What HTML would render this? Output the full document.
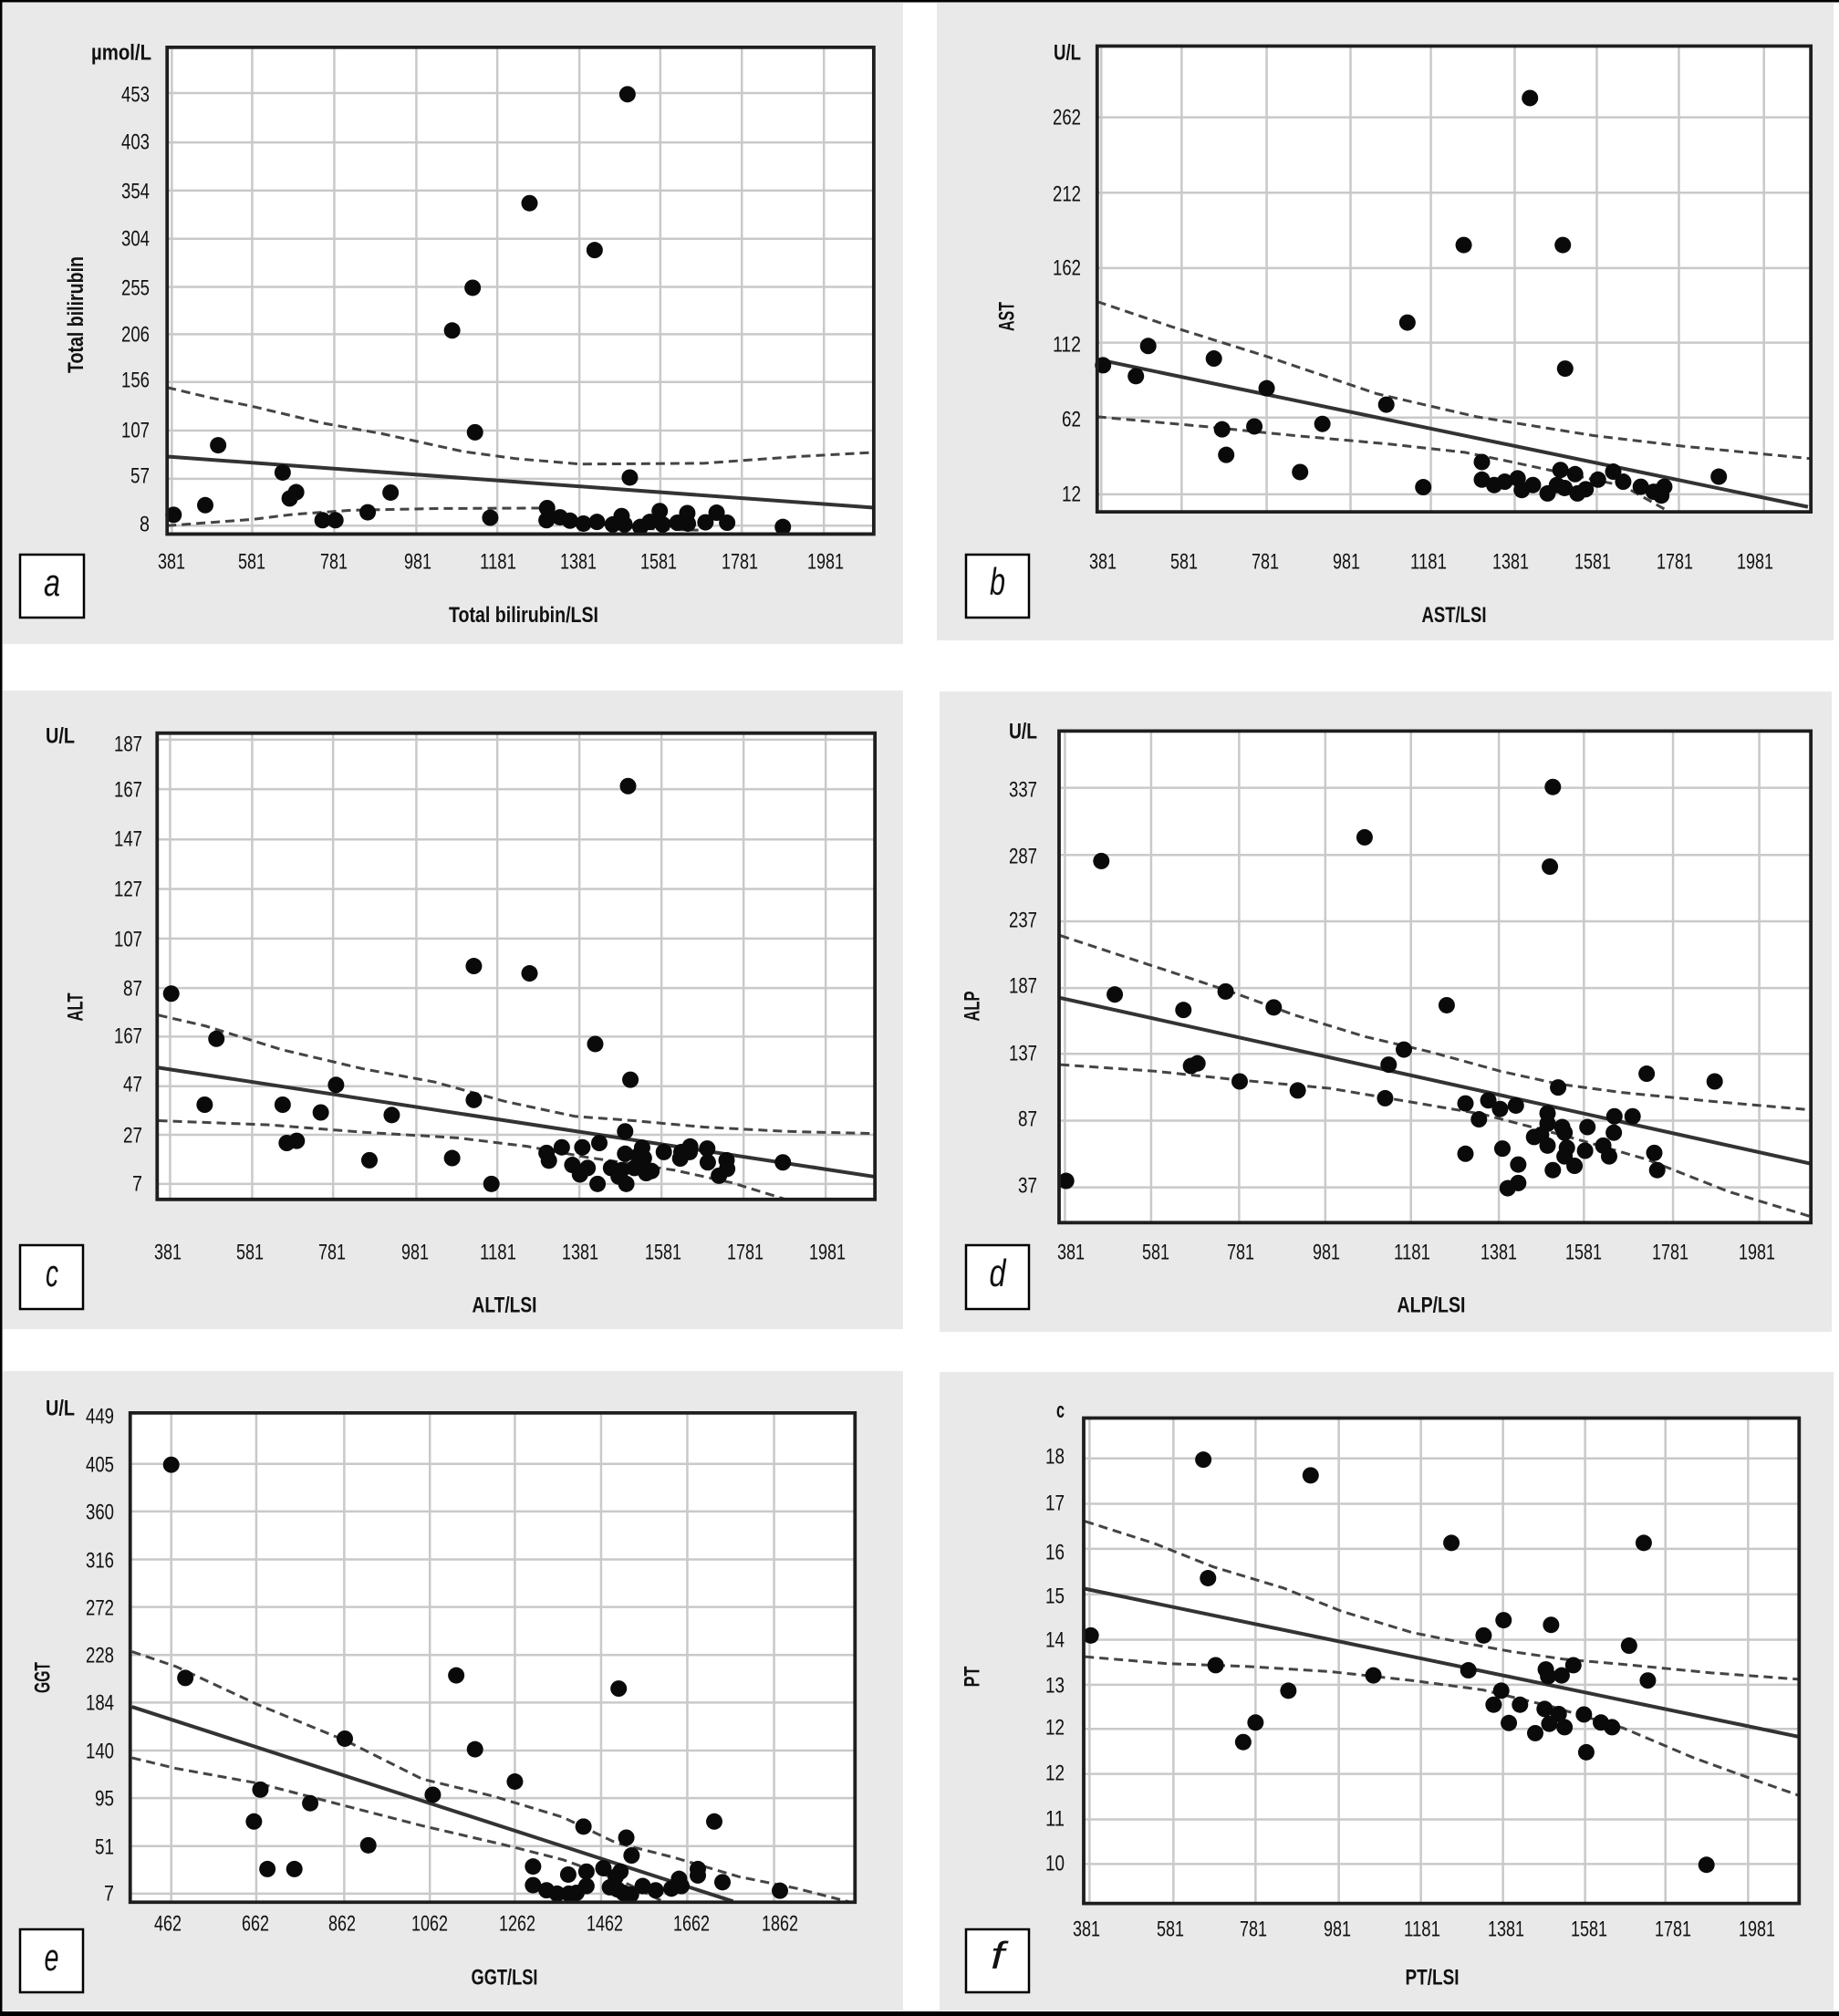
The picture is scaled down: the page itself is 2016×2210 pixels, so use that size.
<!DOCTYPE html>
<html><head><meta charset="utf-8"><style>
html,body{margin:0;padding:0;background:#fff}
svg{display:block}
.t{font-family:"Liberation Sans",sans-serif;font-size:24px;fill:#111}
.b{font-weight:bold}
.L{font-family:"Liberation Sans",sans-serif;font-style:italic;font-size:42px;fill:#111}
.pg path,.pg rect{vector-effect:non-scaling-stroke}
.grid{stroke:#c9c9c9;stroke-width:2.5;fill:none}
.frame{stroke:#1e1e1e;stroke-width:3.8;fill:none}
.reg{stroke:#333;stroke-width:4;fill:none}
.ci{stroke:#444;stroke-width:3;fill:none;stroke-dasharray:10 6}
.dots ellipse{fill:#0a0a0a}
</style></head><body>
<svg width="2016" height="2210" viewBox="0 0 2016 2210" xmlns="http://www.w3.org/2000/svg">
<rect x="0" y="0" width="2016" height="2210" fill="#fff"/>
<!-- panel backgrounds -->
<rect x="3" y="3" width="987" height="703" fill="#e9e9e9"/>
<rect x="1027" y="3" width="983" height="699" fill="#e9e9e9"/>
<rect x="3" y="757" width="987" height="700" fill="#e9e9e9"/>
<rect x="1030" y="758" width="978" height="702" fill="#e9e9e9"/>
<rect x="3" y="1503" width="987" height="701" fill="#e9e9e9"/>
<rect x="1030" y="1504" width="980" height="700" fill="#e9e9e9"/>
<!-- outer black edges -->
<rect x="0" y="0" width="2016" height="2.5" fill="#000"/>
<rect x="0" y="0" width="2.5" height="2210" fill="#000"/>
<rect x="0" y="2205" width="2016" height="5" fill="#000"/>

<!-- ============ PANEL A ============ -->
<g class="pg" transform="translate(0,0) scale(0.64286,0.45918)">
<rect x="285" y="113" width="1205" height="1162" fill="#fff"/>
<path class="grid" d="M293,113V1275M430,113V1275M570,113V1275M710,113V1275M848,113V1275M988,113V1275M1126,113V1275M1265,113V1275M1405,113V1275M285,222H1490M285,340H1490M285,455H1490M285,570H1490M285,685H1490M285,798H1490M285,912H1490M285,1028H1490M285,1143H1490M285,1255H1490"/>
<path class="ci" d="M285,925L360,950L430,970L550,1010L650,1035L790,1078L880,1095L990,1108L1200,1106L1360,1090L1490,1080"/>
<path class="ci" d="M285,1255L430,1240L500,1228L600,1218L750,1214L920,1213L1000,1248L1100,1262L1200,1266"/>
<path class="reg" d="M285,1090L1490,1212"/>
<g class="dots">
<ellipse cx="1070" cy="225" rx="14" ry="19.6"/><ellipse cx="903" cy="485" rx="14" ry="19.6"/><ellipse cx="1014" cy="597" rx="14" ry="19.6"/><ellipse cx="806" cy="687" rx="14" ry="19.6"/><ellipse cx="771" cy="789" rx="14" ry="19.6"/><ellipse cx="810" cy="1032" rx="14" ry="19.6"/><ellipse cx="372" cy="1063" rx="14" ry="19.6"/><ellipse cx="482" cy="1128" rx="14" ry="19.6"/><ellipse cx="1074" cy="1140" rx="14" ry="19.6"/><ellipse cx="350" cy="1206" rx="14" ry="19.6"/><ellipse cx="494" cy="1190" rx="14" ry="19.6"/><ellipse cx="505" cy="1175" rx="14" ry="19.6"/><ellipse cx="666" cy="1176" rx="14" ry="19.6"/><ellipse cx="296" cy="1229" rx="14" ry="19.6"/><ellipse cx="550" cy="1242" rx="14" ry="19.6"/><ellipse cx="572" cy="1242" rx="14" ry="19.6"/><ellipse cx="627" cy="1223" rx="14" ry="19.6"/><ellipse cx="836" cy="1236" rx="14" ry="19.6"/><ellipse cx="933" cy="1213" rx="14" ry="19.6"/><ellipse cx="932" cy="1242" rx="14" ry="19.6"/><ellipse cx="955" cy="1235" rx="14" ry="19.6"/><ellipse cx="972" cy="1243" rx="14" ry="19.6"/><ellipse cx="995" cy="1250" rx="14" ry="19.6"/><ellipse cx="1018" cy="1246" rx="14" ry="19.6"/><ellipse cx="1045" cy="1252" rx="14" ry="19.6"/><ellipse cx="1060" cy="1232" rx="14" ry="19.6"/><ellipse cx="1065" cy="1252" rx="14" ry="19.6"/><ellipse cx="1092" cy="1258" rx="14" ry="19.6"/><ellipse cx="1108" cy="1246" rx="14" ry="19.6"/><ellipse cx="1125" cy="1220" rx="14" ry="19.6"/><ellipse cx="1130" cy="1252" rx="14" ry="19.6"/><ellipse cx="1155" cy="1248" rx="14" ry="19.6"/><ellipse cx="1172" cy="1225" rx="14" ry="19.6"/><ellipse cx="1173" cy="1250" rx="14" ry="19.6"/><ellipse cx="1203" cy="1247" rx="14" ry="19.6"/><ellipse cx="1222" cy="1224" rx="14" ry="19.6"/><ellipse cx="1240" cy="1248" rx="14" ry="19.6"/><ellipse cx="1335" cy="1258" rx="14" ry="19.6"/>
</g>
<rect class="frame" x="285" y="113" width="1205" height="1162"/>
</g>
<g class="t" text-anchor="end">
<text class="b" x="166" y="65.5" textLength="66" lengthAdjust="spacingAndGlyphs">µmol/L</text>
<text x="164" y="111.5" textLength="31" lengthAdjust="spacingAndGlyphs">453</text>
<text x="164" y="163.5" textLength="31" lengthAdjust="spacingAndGlyphs">403</text>
<text x="164" y="217.5" textLength="31" lengthAdjust="spacingAndGlyphs">354</text>
<text x="164" y="269.5" textLength="31" lengthAdjust="spacingAndGlyphs">304</text>
<text x="164" y="323.5" textLength="31" lengthAdjust="spacingAndGlyphs">255</text>
<text x="164" y="374.5" textLength="31" lengthAdjust="spacingAndGlyphs">206</text>
<text x="164" y="424.5" textLength="31" lengthAdjust="spacingAndGlyphs">156</text>
<text x="164" y="479.5" textLength="31" lengthAdjust="spacingAndGlyphs">107</text>
<text x="164" y="529.5" textLength="21" lengthAdjust="spacingAndGlyphs">57</text>
<text x="164" y="582.5" textLength="11" lengthAdjust="spacingAndGlyphs">8</text>
</g>
<g class="t" text-anchor="middle">
<text x="188" y="623.5" textLength="30" lengthAdjust="spacingAndGlyphs">381</text>
<text x="276" y="623.5" textLength="30" lengthAdjust="spacingAndGlyphs">581</text>
<text x="366" y="623.5" textLength="30" lengthAdjust="spacingAndGlyphs">781</text>
<text x="458" y="623.5" textLength="30" lengthAdjust="spacingAndGlyphs">981</text>
<text x="546" y="623.5" textLength="40" lengthAdjust="spacingAndGlyphs">1181</text>
<text x="634" y="623.5" textLength="40" lengthAdjust="spacingAndGlyphs">1381</text>
<text x="722" y="623.5" textLength="40" lengthAdjust="spacingAndGlyphs">1581</text>
<text x="811" y="623.5" textLength="40" lengthAdjust="spacingAndGlyphs">1781</text>
<text x="905" y="623.5" textLength="40" lengthAdjust="spacingAndGlyphs">1981</text>
<text class="b" x="574" y="682" textLength="164" lengthAdjust="spacingAndGlyphs">Total bilirubin/LSI</text>
<text class="b" x="91" y="345" transform="rotate(-90,91,345)" textLength="128" lengthAdjust="spacingAndGlyphs">Total bilirubin</text>
</g>
<rect x="22" y="608" width="70" height="69" fill="#fff" stroke="#000" stroke-width="2.5"/>
<text class="L" x="57" y="653" text-anchor="middle" textLength="18" lengthAdjust="spacingAndGlyphs">a</text>

<!-- ============ PANEL B ============ -->
<g class="pg" transform="translate(1008,0) scale(0.64286,0.45918)">
<rect x="303" y="110" width="1217" height="1112" fill="#fff"/>
<path class="grid" d="M310,110V1222M447,110V1222M592,110V1222M735,110V1222M872,110V1222M1015,110V1222M1155,110V1222M1295,110V1222M1440,110V1222M303,280H1520M303,460H1520M303,640H1520M303,818H1520M303,997H1520M303,1180H1520"/>
<path class="ci" d="M303,720L430,780L590,850L780,940L950,995L1150,1040L1300,1065L1520,1095"/>
<path class="ci" d="M303,995L500,1020L640,1040L800,1060L930,1080L1000,1100L1100,1130L1200,1160L1270,1215"/>
<path class="reg" d="M303,858L1515,1210"/>
<g class="dots">
<ellipse cx="1041" cy="234" rx="14" ry="19.6"/><ellipse cx="928" cy="585" rx="14" ry="19.6"/><ellipse cx="1097" cy="585" rx="14" ry="19.6"/><ellipse cx="832" cy="770" rx="14" ry="19.6"/><ellipse cx="390" cy="826" rx="14" ry="19.6"/><ellipse cx="1101" cy="880" rx="14" ry="19.6"/><ellipse cx="313" cy="872" rx="14" ry="19.6"/><ellipse cx="369" cy="898" rx="14" ry="19.6"/><ellipse cx="502" cy="856" rx="14" ry="19.6"/><ellipse cx="592" cy="927" rx="14" ry="19.6"/><ellipse cx="796" cy="966" rx="14" ry="19.6"/><ellipse cx="687" cy="1012" rx="14" ry="19.6"/><ellipse cx="571" cy="1018" rx="14" ry="19.6"/><ellipse cx="516" cy="1025" rx="14" ry="19.6"/><ellipse cx="523" cy="1086" rx="14" ry="19.6"/><ellipse cx="649" cy="1127" rx="14" ry="19.6"/><ellipse cx="859" cy="1163" rx="14" ry="19.6"/><ellipse cx="959" cy="1103" rx="14" ry="19.6"/><ellipse cx="959" cy="1145" rx="14" ry="19.6"/><ellipse cx="980" cy="1158" rx="14" ry="19.6"/><ellipse cx="998" cy="1150" rx="14" ry="19.6"/><ellipse cx="1020" cy="1142" rx="14" ry="19.6"/><ellipse cx="1027" cy="1170" rx="14" ry="19.6"/><ellipse cx="1046" cy="1158" rx="14" ry="19.6"/><ellipse cx="1071" cy="1178" rx="14" ry="19.6"/><ellipse cx="1087" cy="1158" rx="14" ry="19.6"/><ellipse cx="1093" cy="1122" rx="14" ry="19.6"/><ellipse cx="1100" cy="1165" rx="14" ry="19.6"/><ellipse cx="1118" cy="1132" rx="14" ry="19.6"/><ellipse cx="1122" cy="1178" rx="14" ry="19.6"/><ellipse cx="1136" cy="1168" rx="14" ry="19.6"/><ellipse cx="1157" cy="1145" rx="14" ry="19.6"/><ellipse cx="1183" cy="1126" rx="14" ry="19.6"/><ellipse cx="1200" cy="1150" rx="14" ry="19.6"/><ellipse cx="1230" cy="1162" rx="14" ry="19.6"/><ellipse cx="1252" cy="1174" rx="14" ry="19.6"/><ellipse cx="1265" cy="1183" rx="14" ry="19.6"/><ellipse cx="1270" cy="1162" rx="14" ry="19.6"/><ellipse cx="1363" cy="1138" rx="14" ry="19.6"/>
</g>
<rect class="frame" x="303" y="110" width="1217" height="1112"/>
</g>
<g class="t" text-anchor="end">
<text class="b" x="1185" y="65.5" textLength="30" lengthAdjust="spacingAndGlyphs">U/L</text>
<text x="1185" y="136.5" textLength="31" lengthAdjust="spacingAndGlyphs">262</text>
<text x="1185" y="220.5" textLength="31" lengthAdjust="spacingAndGlyphs">212</text>
<text x="1185" y="301.5" textLength="31" lengthAdjust="spacingAndGlyphs">162</text>
<text x="1185" y="385.5" textLength="31" lengthAdjust="spacingAndGlyphs">112</text>
<text x="1185" y="467.5" textLength="21" lengthAdjust="spacingAndGlyphs">62</text>
<text x="1185" y="549.5" textLength="21" lengthAdjust="spacingAndGlyphs">12</text>
</g>
<g class="t" text-anchor="middle">
<text x="1209" y="623.5" textLength="30" lengthAdjust="spacingAndGlyphs">381</text>
<text x="1298" y="623.5" textLength="30" lengthAdjust="spacingAndGlyphs">581</text>
<text x="1387" y="623.5" textLength="30" lengthAdjust="spacingAndGlyphs">781</text>
<text x="1476" y="623.5" textLength="30" lengthAdjust="spacingAndGlyphs">981</text>
<text x="1566" y="623.5" textLength="40" lengthAdjust="spacingAndGlyphs">1181</text>
<text x="1656" y="623.5" textLength="40" lengthAdjust="spacingAndGlyphs">1381</text>
<text x="1746" y="623.5" textLength="40" lengthAdjust="spacingAndGlyphs">1581</text>
<text x="1836" y="623.5" textLength="40" lengthAdjust="spacingAndGlyphs">1781</text>
<text x="1924" y="623.5" textLength="40" lengthAdjust="spacingAndGlyphs">1981</text>
<text class="b" x="1594" y="682" textLength="71" lengthAdjust="spacingAndGlyphs">AST/LSI</text>
<text class="b" x="1111.5" y="347" transform="rotate(-90,1111.5,347)" textLength="32" lengthAdjust="spacingAndGlyphs">AST</text>
</g>
<rect x="1059" y="608" width="69" height="69" fill="#fff" stroke="#000" stroke-width="2.5"/>
<text class="L" x="1093.5" y="652" text-anchor="middle" textLength="17" lengthAdjust="spacingAndGlyphs">b</text>

<!-- ============ PANEL C ============ -->
<g class="pg" transform="translate(0,740) scale(0.64286,0.47194)">
<rect x="268" y="135" width="1224" height="1083" fill="#fff"/>
<path class="grid" d="M290,135V1218M430,135V1218M568,135V1218M710,135V1218M848,135V1218M988,135V1218M1128,135V1218M1268,135V1218M1408,135V1218M268,150H1492M268,265H1492M268,382H1492M268,497H1492M268,612H1492M268,727H1492M268,840H1492M268,955H1492M268,1068H1492M268,1182H1492"/>
<path class="ci" d="M270,790L350,815L480,870L620,915L740,945L860,990L980,1025L1080,1035L1200,1050L1340,1060L1490,1065"/>
<path class="ci" d="M270,1035L460,1045L620,1062L780,1075L900,1095L1000,1120L1150,1150L1250,1180L1340,1218"/>
<path class="reg" d="M270,912L1490,1165"/>
<g class="dots">
<ellipse cx="1071" cy="258" rx="14" ry="19.1"/><ellipse cx="808" cy="676" rx="14" ry="19.1"/><ellipse cx="903" cy="693" rx="14" ry="19.1"/><ellipse cx="292" cy="740" rx="14" ry="19.1"/><ellipse cx="369" cy="845" rx="14" ry="19.1"/><ellipse cx="1015" cy="857" rx="14" ry="19.1"/><ellipse cx="1075" cy="940" rx="14" ry="19.1"/><ellipse cx="573" cy="952" rx="14" ry="19.1"/><ellipse cx="349" cy="998" rx="14" ry="19.1"/><ellipse cx="482" cy="998" rx="14" ry="19.1"/><ellipse cx="808" cy="987" rx="14" ry="19.1"/><ellipse cx="547" cy="1016" rx="14" ry="19.1"/><ellipse cx="668" cy="1022" rx="14" ry="19.1"/><ellipse cx="1066" cy="1060" rx="14" ry="19.1"/><ellipse cx="489" cy="1087" rx="14" ry="19.1"/><ellipse cx="506" cy="1082" rx="14" ry="19.1"/><ellipse cx="630" cy="1127" rx="14" ry="19.1"/><ellipse cx="771" cy="1122" rx="14" ry="19.1"/><ellipse cx="838" cy="1182" rx="14" ry="19.1"/><ellipse cx="932" cy="1110" rx="14" ry="19.1"/><ellipse cx="936" cy="1128" rx="14" ry="19.1"/><ellipse cx="958" cy="1097" rx="14" ry="19.1"/><ellipse cx="976" cy="1138" rx="14" ry="19.1"/><ellipse cx="993" cy="1097" rx="14" ry="19.1"/><ellipse cx="989" cy="1160" rx="14" ry="19.1"/><ellipse cx="1002" cy="1145" rx="14" ry="19.1"/><ellipse cx="1022" cy="1087" rx="14" ry="19.1"/><ellipse cx="1019" cy="1182" rx="14" ry="19.1"/><ellipse cx="1042" cy="1145" rx="14" ry="19.1"/><ellipse cx="1055" cy="1165" rx="14" ry="19.1"/><ellipse cx="1060" cy="1150" rx="14" ry="19.1"/><ellipse cx="1066" cy="1112" rx="14" ry="19.1"/><ellipse cx="1068" cy="1182" rx="14" ry="19.1"/><ellipse cx="1082" cy="1145" rx="14" ry="19.1"/><ellipse cx="1088" cy="1117" rx="14" ry="19.1"/><ellipse cx="1095" cy="1098" rx="14" ry="19.1"/><ellipse cx="1098" cy="1122" rx="14" ry="19.1"/><ellipse cx="1102" cy="1157" rx="14" ry="19.1"/><ellipse cx="1111" cy="1152" rx="14" ry="19.1"/><ellipse cx="1132" cy="1108" rx="14" ry="19.1"/><ellipse cx="1160" cy="1123" rx="14" ry="19.1"/><ellipse cx="1162" cy="1108" rx="14" ry="19.1"/><ellipse cx="1176" cy="1108" rx="14" ry="19.1"/><ellipse cx="1177" cy="1095" rx="14" ry="19.1"/><ellipse cx="1206" cy="1100" rx="14" ry="19.1"/><ellipse cx="1207" cy="1132" rx="14" ry="19.1"/><ellipse cx="1226" cy="1163" rx="14" ry="19.1"/><ellipse cx="1239" cy="1127" rx="14" ry="19.1"/><ellipse cx="1240" cy="1147" rx="14" ry="19.1"/><ellipse cx="1335" cy="1132" rx="14" ry="19.1"/>
</g>
<rect class="frame" x="268" y="135" width="1224" height="1083"/>
</g>
<g class="t" text-anchor="end">
<text class="b" x="82" y="814.5" textLength="32" lengthAdjust="spacingAndGlyphs">U/L</text>
<text x="156" y="823.5" textLength="31" lengthAdjust="spacingAndGlyphs">187</text>
<text x="156" y="873.5" textLength="31" lengthAdjust="spacingAndGlyphs">167</text>
<text x="156" y="927.5" textLength="31" lengthAdjust="spacingAndGlyphs">147</text>
<text x="156" y="982.5" textLength="31" lengthAdjust="spacingAndGlyphs">127</text>
<text x="156" y="1037.5" textLength="31" lengthAdjust="spacingAndGlyphs">107</text>
<text x="156" y="1091.5" textLength="21" lengthAdjust="spacingAndGlyphs">87</text>
<text x="156" y="1143.5" textLength="31" lengthAdjust="spacingAndGlyphs">167</text>
<text x="156" y="1196.5" textLength="21" lengthAdjust="spacingAndGlyphs">47</text>
<text x="156" y="1252.5" textLength="21" lengthAdjust="spacingAndGlyphs">27</text>
<text x="156" y="1305.5" textLength="11" lengthAdjust="spacingAndGlyphs">7</text>
</g>
<g class="t" text-anchor="middle">
<text x="184" y="1380.5" textLength="30" lengthAdjust="spacingAndGlyphs">381</text>
<text x="274" y="1380.5" textLength="30" lengthAdjust="spacingAndGlyphs">581</text>
<text x="364" y="1380.5" textLength="30" lengthAdjust="spacingAndGlyphs">781</text>
<text x="455" y="1380.5" textLength="30" lengthAdjust="spacingAndGlyphs">981</text>
<text x="546" y="1380.5" textLength="40" lengthAdjust="spacingAndGlyphs">1181</text>
<text x="636" y="1380.5" textLength="40" lengthAdjust="spacingAndGlyphs">1381</text>
<text x="727" y="1380.5" textLength="40" lengthAdjust="spacingAndGlyphs">1581</text>
<text x="817" y="1380.5" textLength="40" lengthAdjust="spacingAndGlyphs">1781</text>
<text x="907" y="1380.5" textLength="40" lengthAdjust="spacingAndGlyphs">1981</text>
<text class="b" x="553" y="1438.5" textLength="71" lengthAdjust="spacingAndGlyphs">ALT/LSI</text>
<text class="b" x="90.5" y="1104" transform="rotate(-90,90.5,1104)" textLength="31" lengthAdjust="spacingAndGlyphs">ALT</text>
</g>
<rect x="22" y="1365" width="69" height="70" fill="#fff" stroke="#000" stroke-width="2.5"/>
<text class="L" x="57" y="1410" text-anchor="middle" textLength="14" lengthAdjust="spacingAndGlyphs">c</text>

<!-- ============ PANEL D ============ -->
<g class="pg" transform="translate(1008,740) scale(0.64286,0.47194)">
<rect x="238" y="130" width="1282" height="1142" fill="#fff"/>
<path class="grid" d="M248,130V1272M395,130V1272M545,130V1272M692,130V1272M838,130V1272M988,130V1272M1133,130V1272M1285,130V1272M1432,130V1272M238,262H1520M238,418H1520M238,572H1520M238,727H1520M238,880H1520M238,1035H1520M238,1190H1520"/>
<path class="ci" d="M240,605L340,650L430,690L540,740L640,790L760,840L870,875L990,920L1090,950L1200,970L1350,990L1520,1010"/>
<path class="ci" d="M240,905L400,920L540,940L700,960L830,990L960,1020L1100,1070L1240,1125L1380,1200L1520,1258"/>
<path class="reg" d="M240,750L1520,1135"/>
<g class="dots">
<ellipse cx="1080" cy="260" rx="14" ry="19.1"/><ellipse cx="759" cy="377" rx="14" ry="19.1"/><ellipse cx="310" cy="432" rx="14" ry="19.1"/><ellipse cx="1075" cy="445" rx="14" ry="19.1"/><ellipse cx="333" cy="742" rx="14" ry="19.1"/><ellipse cx="522" cy="735" rx="14" ry="19.1"/><ellipse cx="450" cy="778" rx="14" ry="19.1"/><ellipse cx="604" cy="772" rx="14" ry="19.1"/><ellipse cx="899" cy="767" rx="14" ry="19.1"/><ellipse cx="826" cy="870" rx="14" ry="19.1"/><ellipse cx="800" cy="905" rx="14" ry="19.1"/><ellipse cx="463" cy="908" rx="14" ry="19.1"/><ellipse cx="474" cy="902" rx="14" ry="19.1"/><ellipse cx="546" cy="944" rx="14" ry="19.1"/><ellipse cx="645" cy="965" rx="14" ry="19.1"/><ellipse cx="1240" cy="926" rx="14" ry="19.1"/><ellipse cx="1356" cy="944" rx="14" ry="19.1"/><ellipse cx="1089" cy="958" rx="14" ry="19.1"/><ellipse cx="794" cy="983" rx="14" ry="19.1"/><ellipse cx="931" cy="995" rx="14" ry="19.1"/><ellipse cx="970" cy="988" rx="14" ry="19.1"/><ellipse cx="990" cy="1008" rx="14" ry="19.1"/><ellipse cx="1017" cy="1000" rx="14" ry="19.1"/><ellipse cx="954" cy="1032" rx="14" ry="19.1"/><ellipse cx="1071" cy="1018" rx="14" ry="19.1"/><ellipse cx="1071" cy="1042" rx="14" ry="19.1"/><ellipse cx="1096" cy="1050" rx="14" ry="19.1"/><ellipse cx="1100" cy="1063" rx="14" ry="19.1"/><ellipse cx="1139" cy="1050" rx="14" ry="19.1"/><ellipse cx="1185" cy="1025" rx="14" ry="19.1"/><ellipse cx="1184" cy="1063" rx="14" ry="19.1"/><ellipse cx="1216" cy="1025" rx="14" ry="19.1"/><ellipse cx="1048" cy="1073" rx="14" ry="19.1"/><ellipse cx="1060" cy="1068" rx="14" ry="19.1"/><ellipse cx="1071" cy="1093" rx="14" ry="19.1"/><ellipse cx="1104" cy="1098" rx="14" ry="19.1"/><ellipse cx="1100" cy="1118" rx="14" ry="19.1"/><ellipse cx="1135" cy="1105" rx="14" ry="19.1"/><ellipse cx="1166" cy="1093" rx="14" ry="19.1"/><ellipse cx="1176" cy="1118" rx="14" ry="19.1"/><ellipse cx="1117" cy="1140" rx="14" ry="19.1"/><ellipse cx="1080" cy="1150" rx="14" ry="19.1"/><ellipse cx="931" cy="1112" rx="14" ry="19.1"/><ellipse cx="994" cy="1100" rx="14" ry="19.1"/><ellipse cx="1021" cy="1137" rx="14" ry="19.1"/><ellipse cx="1003" cy="1192" rx="14" ry="19.1"/><ellipse cx="1021" cy="1180" rx="14" ry="19.1"/><ellipse cx="1253" cy="1110" rx="14" ry="19.1"/><ellipse cx="1258" cy="1150" rx="14" ry="19.1"/><ellipse cx="250" cy="1175" rx="14" ry="19.1"/>
</g>
<rect class="frame" x="238" y="130" width="1282" height="1142"/>
</g>
<g class="t" text-anchor="end">
<text class="b" x="1137" y="809.5" textLength="31" lengthAdjust="spacingAndGlyphs">U/L</text>
<text x="1137" y="873.5" textLength="31" lengthAdjust="spacingAndGlyphs">337</text>
<text x="1137" y="946.5" textLength="31" lengthAdjust="spacingAndGlyphs">287</text>
<text x="1137" y="1016.5" textLength="31" lengthAdjust="spacingAndGlyphs">237</text>
<text x="1137" y="1088.5" textLength="31" lengthAdjust="spacingAndGlyphs">187</text>
<text x="1137" y="1162.5" textLength="31" lengthAdjust="spacingAndGlyphs">137</text>
<text x="1137" y="1234.5" textLength="21" lengthAdjust="spacingAndGlyphs">87</text>
<text x="1137" y="1307.5" textLength="21" lengthAdjust="spacingAndGlyphs">37</text>
</g>
<g class="t" text-anchor="middle">
<text x="1174" y="1380.5" textLength="30" lengthAdjust="spacingAndGlyphs">381</text>
<text x="1267" y="1380.5" textLength="30" lengthAdjust="spacingAndGlyphs">581</text>
<text x="1360" y="1380.5" textLength="30" lengthAdjust="spacingAndGlyphs">781</text>
<text x="1454" y="1380.5" textLength="30" lengthAdjust="spacingAndGlyphs">981</text>
<text x="1548" y="1380.5" textLength="40" lengthAdjust="spacingAndGlyphs">1181</text>
<text x="1643" y="1380.5" textLength="40" lengthAdjust="spacingAndGlyphs">1381</text>
<text x="1736" y="1380.5" textLength="40" lengthAdjust="spacingAndGlyphs">1581</text>
<text x="1831" y="1380.5" textLength="40" lengthAdjust="spacingAndGlyphs">1781</text>
<text x="1926" y="1380.5" textLength="40" lengthAdjust="spacingAndGlyphs">1981</text>
<text class="b" x="1569" y="1438.5" textLength="75" lengthAdjust="spacingAndGlyphs">ALP/LSI</text>
<text class="b" x="1073.5" y="1103" transform="rotate(-90,1073.5,1103)" textLength="33" lengthAdjust="spacingAndGlyphs">ALP</text>
</g>
<rect x="1059" y="1365" width="69" height="70" fill="#fff" stroke="#000" stroke-width="2.5"/>
<text class="L" x="1093.5" y="1410" text-anchor="middle" textLength="18" lengthAdjust="spacingAndGlyphs">d</text>

<!-- ============ PANEL E ============ -->
<g class="pg" transform="translate(0,1480) scale(0.64286,0.46556)">
<rect x="222" y="148" width="1236" height="1152" fill="#fff"/>
<path class="grid" d="M292,148V1300M437,148V1300M587,148V1300M733,148V1300M878,148V1300M1025,148V1300M1172,148V1300M1320,148V1300M222,268H1458M222,380H1458M222,493H1458M222,605H1458M222,718H1458M222,830H1458M222,943H1458M222,1055H1458M222,1168H1458M222,1280H1458"/>
<path class="ci" d="M225,710L300,745L440,835L590,920L720,1010L840,1050L960,1100L1050,1160L1150,1195L1260,1240L1360,1268L1450,1300"/>
<path class="ci" d="M225,960L300,985L440,1020L580,1070L720,1120L860,1165L960,1200L1060,1250L1130,1298"/>
<path class="reg" d="M225,840L1250,1298"/>
<g class="dots">
<ellipse cx="292" cy="270" rx="14" ry="19.3"/><ellipse cx="316" cy="772" rx="14" ry="19.3"/><ellipse cx="778" cy="766" rx="14" ry="19.3"/><ellipse cx="1055" cy="797" rx="14" ry="19.3"/><ellipse cx="588" cy="915" rx="14" ry="19.3"/><ellipse cx="810" cy="940" rx="14" ry="19.3"/><ellipse cx="878" cy="1016" rx="14" ry="19.3"/><ellipse cx="444" cy="1035" rx="14" ry="19.3"/><ellipse cx="738" cy="1047" rx="14" ry="19.3"/><ellipse cx="529" cy="1067" rx="14" ry="19.3"/><ellipse cx="433" cy="1110" rx="14" ry="19.3"/><ellipse cx="1218" cy="1110" rx="14" ry="19.3"/><ellipse cx="995" cy="1122" rx="14" ry="19.3"/><ellipse cx="1068" cy="1148" rx="14" ry="19.3"/><ellipse cx="628" cy="1166" rx="14" ry="19.3"/><ellipse cx="1077" cy="1190" rx="14" ry="19.3"/><ellipse cx="456" cy="1222" rx="14" ry="19.3"/><ellipse cx="502" cy="1222" rx="14" ry="19.3"/><ellipse cx="909" cy="1216" rx="14" ry="19.3"/><ellipse cx="969" cy="1235" rx="14" ry="19.3"/><ellipse cx="1000" cy="1228" rx="14" ry="19.3"/><ellipse cx="1029" cy="1220" rx="14" ry="19.3"/><ellipse cx="1058" cy="1228" rx="14" ry="19.3"/><ellipse cx="1050" cy="1240" rx="14" ry="19.3"/><ellipse cx="1190" cy="1222" rx="14" ry="19.3"/><ellipse cx="1190" cy="1237" rx="14" ry="19.3"/><ellipse cx="1158" cy="1245" rx="14" ry="19.3"/><ellipse cx="1232" cy="1253" rx="14" ry="19.3"/><ellipse cx="909" cy="1260" rx="14" ry="19.3"/><ellipse cx="932" cy="1272" rx="14" ry="19.3"/><ellipse cx="950" cy="1280" rx="14" ry="19.3"/><ellipse cx="970" cy="1280" rx="14" ry="19.3"/><ellipse cx="983" cy="1278" rx="14" ry="19.3"/><ellipse cx="1000" cy="1262" rx="14" ry="19.3"/><ellipse cx="1040" cy="1265" rx="14" ry="19.3"/><ellipse cx="1053" cy="1270" rx="14" ry="19.3"/><ellipse cx="1063" cy="1278" rx="14" ry="19.3"/><ellipse cx="1076" cy="1282" rx="14" ry="19.3"/><ellipse cx="1096" cy="1262" rx="14" ry="19.3"/><ellipse cx="1118" cy="1272" rx="14" ry="19.3"/><ellipse cx="1145" cy="1268" rx="14" ry="19.3"/><ellipse cx="1162" cy="1262" rx="14" ry="19.3"/><ellipse cx="1330" cy="1273" rx="14" ry="19.3"/>
</g>
<rect class="frame" x="222" y="148" width="1236" height="1152"/>
</g>
<g class="t" text-anchor="end">
<text class="b" x="82" y="1551.5" textLength="32" lengthAdjust="spacingAndGlyphs">U/L</text>
<text x="125" y="1560.5" textLength="31" lengthAdjust="spacingAndGlyphs">449</text>
<text x="125" y="1613.5" textLength="31" lengthAdjust="spacingAndGlyphs">405</text>
<text x="125" y="1665.5" textLength="31" lengthAdjust="spacingAndGlyphs">360</text>
<text x="125" y="1718.5" textLength="31" lengthAdjust="spacingAndGlyphs">316</text>
<text x="125" y="1770.5" textLength="31" lengthAdjust="spacingAndGlyphs">272</text>
<text x="125" y="1822.5" textLength="31" lengthAdjust="spacingAndGlyphs">228</text>
<text x="125" y="1874.5" textLength="31" lengthAdjust="spacingAndGlyphs">184</text>
<text x="125" y="1927.5" textLength="31" lengthAdjust="spacingAndGlyphs">140</text>
<text x="125" y="1979.5" textLength="21" lengthAdjust="spacingAndGlyphs">95</text>
<text x="125" y="2032.5" textLength="21" lengthAdjust="spacingAndGlyphs">51</text>
<text x="125" y="2083.5" textLength="11" lengthAdjust="spacingAndGlyphs">7</text>
</g>
<g class="t" text-anchor="middle">
<text x="184" y="2116.5" textLength="30" lengthAdjust="spacingAndGlyphs">462</text>
<text x="280" y="2116.5" textLength="30" lengthAdjust="spacingAndGlyphs">662</text>
<text x="375" y="2116.5" textLength="30" lengthAdjust="spacingAndGlyphs">862</text>
<text x="471" y="2116.5" textLength="40" lengthAdjust="spacingAndGlyphs">1062</text>
<text x="567" y="2116.5" textLength="40" lengthAdjust="spacingAndGlyphs">1262</text>
<text x="663" y="2116.5" textLength="40" lengthAdjust="spacingAndGlyphs">1462</text>
<text x="758" y="2116.5" textLength="40" lengthAdjust="spacingAndGlyphs">1662</text>
<text x="855" y="2116.5" textLength="40" lengthAdjust="spacingAndGlyphs">1862</text>
<text class="b" x="553" y="2175.5" textLength="73" lengthAdjust="spacingAndGlyphs">GGT/LSI</text>
<text class="b" x="54.5" y="1839" transform="rotate(-90,54.5,1839)" textLength="34" lengthAdjust="spacingAndGlyphs">GGT</text>
</g>
<rect x="22" y="2115" width="69" height="69" fill="#fff" stroke="#000" stroke-width="2.5"/>
<text class="L" x="56.5" y="2160" text-anchor="middle" textLength="16" lengthAdjust="spacingAndGlyphs">e</text>

<!-- ============ PANEL F ============ -->
<g class="pg" transform="translate(1008,1480) scale(0.64286,0.46556)">
<rect x="280" y="160" width="1220" height="1143" fill="#fff"/>
<path class="grid" d="M290,160V1303M433,160V1303M573,160V1303M715,160V1303M855,160V1303M995,160V1303M1135,160V1303M1272,160V1303M1413,160V1303M280,255H1500M280,362H1500M280,468H1500M280,575H1500M280,682H1500M280,788H1500M280,892H1500M280,998H1500M280,1105H1500M280,1210H1500"/>
<path class="ci" d="M282,403L400,455L500,510L620,560L720,615L840,665L930,690L1010,710L1100,728L1200,740L1350,760L1498,775"/>
<path class="ci" d="M282,722L420,738L560,745L700,757L840,778L960,800L1080,840L1200,890L1320,960L1420,1010L1498,1048"/>
<path class="reg" d="M282,562L1498,910"/>
<g class="dots">
<ellipse cx="484" cy="258" rx="14" ry="19.3"/><ellipse cx="667" cy="295" rx="14" ry="19.3"/><ellipse cx="907" cy="454" rx="14" ry="19.3"/><ellipse cx="1235" cy="454" rx="14" ry="19.3"/><ellipse cx="492" cy="537" rx="14" ry="19.3"/><ellipse cx="996" cy="636" rx="14" ry="19.3"/><ellipse cx="1077" cy="647" rx="14" ry="19.3"/><ellipse cx="962" cy="672" rx="14" ry="19.3"/><ellipse cx="292" cy="672" rx="14" ry="19.3"/><ellipse cx="1210" cy="696" rx="14" ry="19.3"/><ellipse cx="505" cy="742" rx="14" ry="19.3"/><ellipse cx="936" cy="754" rx="14" ry="19.3"/><ellipse cx="1068" cy="752" rx="14" ry="19.3"/><ellipse cx="1072" cy="768" rx="14" ry="19.3"/><ellipse cx="1115" cy="742" rx="14" ry="19.3"/><ellipse cx="1095" cy="766" rx="14" ry="19.3"/><ellipse cx="774" cy="766" rx="14" ry="19.3"/><ellipse cx="1242" cy="778" rx="14" ry="19.3"/><ellipse cx="629" cy="802" rx="14" ry="19.3"/><ellipse cx="992" cy="802" rx="14" ry="19.3"/><ellipse cx="979" cy="835" rx="14" ry="19.3"/><ellipse cx="1024" cy="835" rx="14" ry="19.3"/><ellipse cx="1066" cy="845" rx="14" ry="19.3"/><ellipse cx="1090" cy="857" rx="14" ry="19.3"/><ellipse cx="1133" cy="858" rx="14" ry="19.3"/><ellipse cx="573" cy="877" rx="14" ry="19.3"/><ellipse cx="1005" cy="878" rx="14" ry="19.3"/><ellipse cx="1074" cy="880" rx="14" ry="19.3"/><ellipse cx="1162" cy="877" rx="14" ry="19.3"/><ellipse cx="1100" cy="888" rx="14" ry="19.3"/><ellipse cx="1181" cy="888" rx="14" ry="19.3"/><ellipse cx="1050" cy="902" rx="14" ry="19.3"/><ellipse cx="552" cy="923" rx="14" ry="19.3"/><ellipse cx="1137" cy="947" rx="14" ry="19.3"/><ellipse cx="1342" cy="1212" rx="14" ry="19.3"/>
</g>
<rect class="frame" x="280" y="160" width="1220" height="1143"/>
</g>
<g class="t" text-anchor="end">
<text class="b" x="1167" y="1554" textLength="9" lengthAdjust="spacingAndGlyphs">c</text>
<text x="1167" y="1604.5" textLength="21" lengthAdjust="spacingAndGlyphs">18</text>
<text x="1167" y="1655.5" textLength="21" lengthAdjust="spacingAndGlyphs">17</text>
<text x="1167" y="1709.5" textLength="21" lengthAdjust="spacingAndGlyphs">16</text>
<text x="1167" y="1757.5" textLength="21" lengthAdjust="spacingAndGlyphs">15</text>
<text x="1167" y="1805.5" textLength="21" lengthAdjust="spacingAndGlyphs">14</text>
<text x="1167" y="1855.5" textLength="21" lengthAdjust="spacingAndGlyphs">13</text>
<text x="1167" y="1901.5" textLength="21" lengthAdjust="spacingAndGlyphs">12</text>
<text x="1167" y="1951.5" textLength="21" lengthAdjust="spacingAndGlyphs">12</text>
<text x="1167" y="2001.5" textLength="21" lengthAdjust="spacingAndGlyphs">11</text>
<text x="1167" y="2050.5" textLength="21" lengthAdjust="spacingAndGlyphs">10</text>
</g>
<g class="t" text-anchor="middle">
<text x="1191" y="2122.5" textLength="30" lengthAdjust="spacingAndGlyphs">381</text>
<text x="1283" y="2122.5" textLength="30" lengthAdjust="spacingAndGlyphs">581</text>
<text x="1374" y="2122.5" textLength="30" lengthAdjust="spacingAndGlyphs">781</text>
<text x="1466" y="2122.5" textLength="30" lengthAdjust="spacingAndGlyphs">981</text>
<text x="1559" y="2122.5" textLength="40" lengthAdjust="spacingAndGlyphs">1181</text>
<text x="1651" y="2122.5" textLength="40" lengthAdjust="spacingAndGlyphs">1381</text>
<text x="1742" y="2122.5" textLength="40" lengthAdjust="spacingAndGlyphs">1581</text>
<text x="1834" y="2122.5" textLength="40" lengthAdjust="spacingAndGlyphs">1781</text>
<text x="1926" y="2122.5" textLength="40" lengthAdjust="spacingAndGlyphs">1981</text>
<text class="b" x="1570" y="2175.5" textLength="59" lengthAdjust="spacingAndGlyphs">PT/LSI</text>
<text class="b" x="1073.5" y="1838" transform="rotate(-90,1073.5,1838)" textLength="23" lengthAdjust="spacingAndGlyphs">PT</text>
</g>
<rect x="1059" y="2115" width="69" height="69" fill="#fff" stroke="#000" stroke-width="2.5"/>
<text class="L" x="1093.5" y="2158" text-anchor="middle" textLength="15" lengthAdjust="spacingAndGlyphs">f</text>
</svg>
</body></html>
